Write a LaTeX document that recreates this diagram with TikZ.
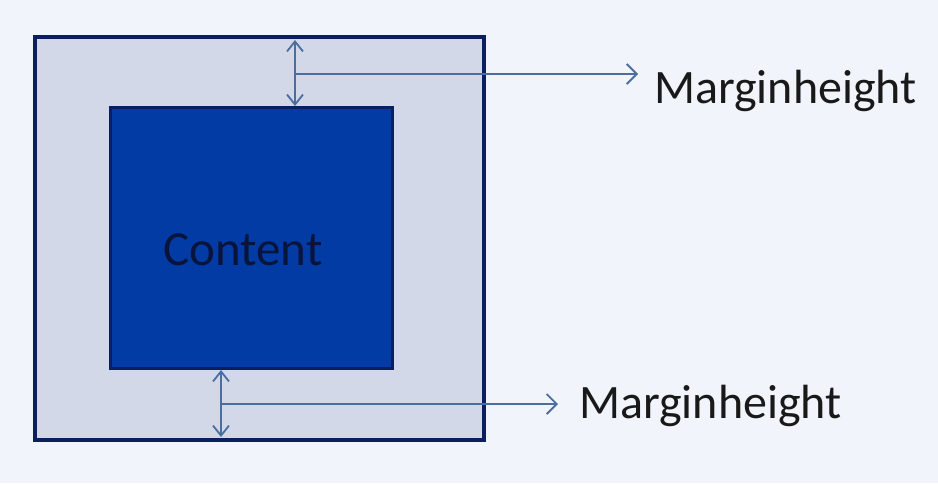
\documentclass[tikz,border=0pt]{standalone}
\usepackage{fontspec}
\setmainfont{Carlito}
\usetikzlibrary{arrows.meta}
\definecolor{bgc}{HTML}{F1F4FA}
\definecolor{outerfill}{HTML}{D2D8E8}
\definecolor{navy}{HTML}{0B1E5E}
\definecolor{innerfill}{HTML}{023BA3}
\definecolor{textnavy}{HTML}{08143C}
\definecolor{arrowc}{HTML}{4A6E9E}
\tikzset{
  boxouter/.style={draw=navy, line width=4.5pt, fill=outerfill, minimum width=449pt, minimum height=403pt, inner sep=0pt},
  boxinner/.style={draw=navy, line width=3pt, fill=innerfill, minimum width=282pt, minimum height=261pt, inner sep=0pt},
  ctext/.style={font=\fontsize{49}{52}\selectfont, text=textnavy, inner sep=0pt},
  lbl/.style={font=\fontsize{48}{52}\selectfont, text=black!90, anchor=base west, inner sep=0pt},
  dim/.style={draw=arrowc, line width=1.8pt, {Straight Barb[length=10pt,width=16pt]}-{Straight Barb[length=10pt,width=16pt]}},
  lead/.style={draw=arrowc, line width=1.8pt, -{Straight Barb[length=10pt,width=20pt]}}
}
\begin{document}
\begin{tikzpicture}[x=1pt,y=-1pt]
\fill[bgc] (0,0) rectangle (938,483);
\useasboundingbox (0,0) rectangle (938,483);
\node[boxouter] (outer) at (259.5,238.5) {};
\node[boxinner] (inner) at (251,237.5) {};
\node[ctext] (content) at (243,250) {Content};
\coordinate (ta) at (295,74);
\coordinate (tb) at (295,40);
\coordinate (tc) at (295,106);
\coordinate (te) at (638,74);
\coordinate (ba) at (221,404);
\coordinate (bb) at (221,370);
\coordinate (bc) at (221,437);
\coordinate (be) at (558,404);
\draw[dim] (tb) -- (tc);
\draw[lead] (ta) -- (te);
\draw[dim] (bb) -- (bc);
\draw[lead] (ba) -- (be);
\node[lbl] (m1) at (654,103) {Marginheight};
\node[lbl] (m2) at (579,418) {Marginheight};
\end{tikzpicture}
\end{document}
